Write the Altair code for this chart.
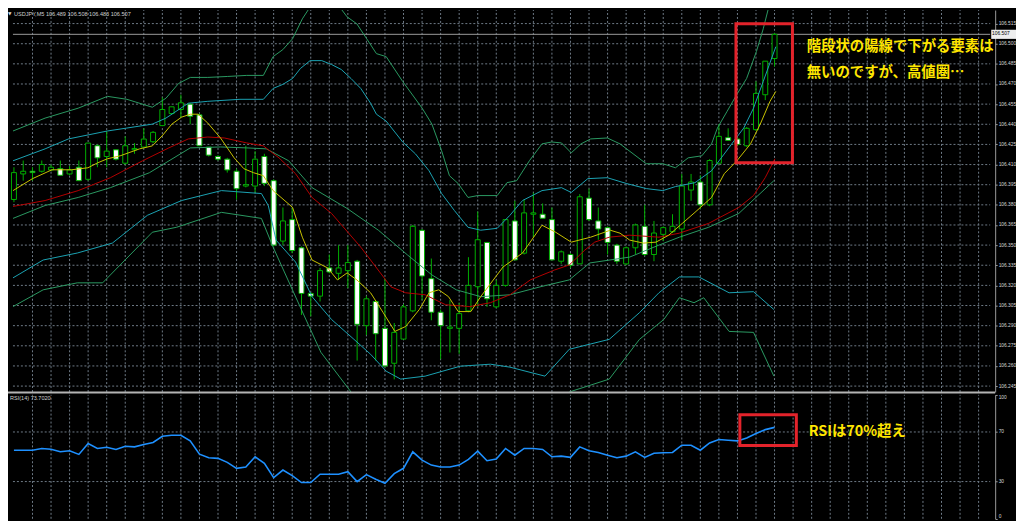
import altair as alt
import pandas as pd

# ---------------- data ----------------
opens = [106.384, 106.403, 106.405, 106.405, 106.406, 106.407, 106.403, 106.408, 106.399, 106.424,
         106.416, 106.421, 106.411, 106.421, 106.423, 106.427, 106.439, 106.448, 106.451, 106.455,
         106.447, 106.423, 106.416, 106.414, 106.405, 106.394, 106.394, 106.416, 106.398, 106.353,
         106.369, 106.348, 106.314, 106.312, 106.333, 106.329, 106.331, 106.338, 106.290, 106.308,
         106.288, 106.262, 106.280, 106.301, 106.361, 106.325, 106.300, 106.288, 106.288, 106.301,
         106.319, 106.352, 106.304, 106.320, 106.368, 106.344, 106.373, 106.373, 106.369, 106.338,
         106.343, 106.336, 106.385, 106.368, 106.363, 106.350, 106.336, 106.348, 106.364, 106.343,
         106.358, 106.360, 106.362, 106.391, 106.397, 106.380, 106.411, 106.430, 106.429, 106.424,
         106.436, 106.462, 106.489]
highs = [106.408, 106.413, 106.408, 106.413, 106.410, 106.413, 106.409, 106.413, 106.426, 106.425,
         106.435, 106.421, 106.431, 106.426, 106.437, 106.435, 106.460, 106.453, 106.462, 106.456,
         106.448, 106.423, 106.417, 106.415, 106.407, 106.424, 106.420, 106.418, 106.399, 106.378,
         106.378, 106.349, 106.315, 106.333, 106.343, 106.350, 106.350, 106.339, 106.312, 106.309,
         106.325, 106.292, 106.306, 106.365, 106.362, 106.340, 106.302, 106.309, 106.307, 106.341,
         106.375, 106.352, 106.324, 106.369, 106.383, 106.384, 106.389, 106.381, 106.378, 106.346,
         106.344, 106.388, 106.392, 106.378, 106.364, 106.351, 106.349, 106.366, 106.380, 106.368,
         106.364, 106.373, 106.403, 106.403, 106.402, 106.414, 106.440, 106.437, 106.430, 106.438,
         106.472, 106.487, 106.508]
lows = [106.382, 106.398, 106.398, 106.404, 106.405, 106.402, 106.402, 106.398, 106.398, 106.408,
        106.408, 106.413, 106.410, 106.418, 106.423, 106.426, 106.439, 106.447, 106.445, 106.440,
        106.424, 106.416, 106.413, 106.404, 106.384, 106.393, 106.389, 106.394, 106.349, 106.350,
        106.344, 106.298, 106.297, 106.308, 106.329, 106.324, 106.318, 106.264, 106.283, 106.264,
        106.259, 106.250, 106.280, 106.300, 106.309, 106.294, 106.265, 106.270, 106.269, 106.300,
        106.304, 106.304, 106.303, 106.319, 106.339, 106.343, 106.356, 106.370, 106.339, 106.336,
        106.333, 106.336, 106.368, 106.354, 106.343, 106.336, 106.335, 106.343, 106.342, 106.338,
        106.353, 106.359, 106.354, 106.383, 106.377, 106.379, 106.410, 106.428, 106.424, 106.423,
        106.435, 106.458, 106.483]
closes = [106.404, 106.405, 106.404, 106.410, 106.408, 106.402, 106.406, 106.398, 106.426, 106.415,
          106.420, 106.414, 106.424, 106.422, 106.429, 106.434, 106.451, 106.453, 106.456, 106.446,
          106.424, 106.417, 106.414, 106.406, 106.392, 106.395, 106.414, 106.396, 106.350, 106.368,
          106.346, 106.314, 106.312, 106.331, 106.330, 106.333, 106.337, 106.291, 106.310, 106.284,
          106.260, 106.285, 106.304, 106.364, 106.327, 106.300, 106.290, 106.289, 106.299, 106.320,
          106.354, 106.310, 106.320, 106.369, 106.339, 106.374, 106.374, 106.370, 106.339, 106.345,
          106.335, 106.386, 106.369, 106.362, 106.352, 106.338, 106.348, 106.365, 106.343, 106.359,
          106.363, 106.364, 106.394, 106.397, 106.380, 106.413, 106.431, 106.428, 106.425, 106.437,
          106.463, 106.487, 106.507]
rsi_vals = [55.3, 55.3, 55.3, 56.7, 56.1, 54.0, 54.8, 51.9, 60.7, 56.7,
            57.7, 55.9, 58.5, 58.0, 59.9, 61.5, 66.5, 67.3, 67.3, 62.8,
            52.1, 49.2, 48.7, 45.5, 40.7, 41.7, 50.0, 44.7, 33.2, 39.3,
            34.8, 29.2, 29.2, 35.9, 35.9, 35.9, 38.0, 30.0, 35.6, 31.9,
            28.7, 36.4, 40.7, 54.0, 47.3, 43.3, 41.7, 41.7, 43.3, 47.9,
            54.5, 46.8, 48.1, 56.7, 51.3, 56.7, 56.7, 55.9, 50.0, 50.5,
            49.5, 58.0, 54.8, 53.5, 51.3, 49.2, 50.5, 54.0, 49.5, 52.9,
            53.2, 53.5, 59.3, 59.3, 55.3, 61.2, 63.9, 63.3, 62.8, 65.2,
            68.7, 71.9, 73.7]

# indicator lines: points (bar index, price)
fast_i = [-0.1, 2.0, 4.1, 6.2, 7.98, 9.03, 10.08, 11.45, 13.55, 14.92, 15.97, 17.02, 18.07, 19.01, 19.85,
          20.9, 22.27, 23.74, 24.79, 25.84, 26.89, 27.94, 30.04, 31.09, 32.14, 33.82, 34.87, 35.92, 36.97,
          38.45, 39.81, 41.07, 42.23, 43.7, 44.75, 45.8, 46.85, 47.9, 49.26, 50.32, 52.73, 54.83, 56.93,
          58.4, 60.08, 62.18, 64.29, 65.34, 66.39, 67.86, 69.22, 70.59, 72.06, 73.42, 75.21, 76.58, 77.94,
          79.41, 80.46, 81.51, 82.14]
fast_p = [106.3906, 106.3995, 106.4061, 106.4061, 106.4076, 106.4113, 106.4143, 106.4165, 106.4217, 106.4239,
          106.4313, 106.4401, 106.4453, 106.4475, 106.4475, 106.4409, 106.4298, 106.4150, 106.4069, 106.4039,
          106.4017, 106.3906, 106.3781, 106.3559, 106.3389, 106.3330, 106.3241, 106.3293, 106.3241, 106.3145,
          106.2997, 106.2857, 106.2894, 106.3020, 106.3145, 106.3167, 106.3116, 106.3005, 106.3005, 106.3116,
          106.3337, 106.3441, 106.3648, 106.3596, 106.3522, 106.3559, 106.3611, 106.3589, 106.3537, 106.3515,
          106.3522, 106.3574, 106.3662, 106.3744, 106.3855, 106.4032, 106.4128, 106.4254, 106.4401, 106.4571,
          106.4645]
slow_i = [-0.1, 3.36, 6.93, 10.4, 13.87, 16.7, 18.8, 20.9, 22.69, 25.1, 26.89, 28.57, 30.36, 32.14, 34.24,
          37.39, 40.65, 42.23, 44.33, 46.53, 49.16, 51.37, 53.47, 55.67, 58.3, 59.87, 61.55, 62.61, 64.18,
          66.39, 69.54, 71.74, 74.9, 78.15, 79.73, 80.99, 82.04]
slow_p = [106.3788, 106.3832, 106.3906, 106.4002, 106.4128, 106.4224, 106.4291, 106.4305, 106.4298, 106.4261,
          106.4239, 106.4150, 106.4032, 106.3855, 106.3736, 106.3485, 106.3189, 106.3145, 106.3130, 106.3056,
          106.3042, 106.3071, 106.3130, 106.3241, 106.3315, 106.3352, 106.3463, 106.3522, 106.3559, 106.3574,
          106.3559, 106.3589, 106.3662, 106.3781, 106.3869, 106.4002, 106.4143]
mid_i = [-0.1, 3.36, 6.93, 10.4, 14.6, 19.01, 22.27, 25.1, 27.2, 29.62, 32.14, 35.92, 39.29, 42.44, 45.06,
         47.69, 50.32, 53.47, 56.72, 59.87, 62.08, 66.39, 69.54, 71.74, 74.9, 78.15, 81.93]
mid_p = [106.3699, 106.3795, 106.3855, 106.3928, 106.4039, 106.4224, 106.4231, 106.4224, 106.4217, 106.4128,
         106.3928, 106.3773, 106.3611, 106.3426, 106.3278, 106.3167, 106.3116, 106.3130, 106.3189, 106.3241,
         106.3367, 106.3411, 106.3500, 106.3559, 106.3633, 106.3736, 106.3980]
up2_i = [-0.1, 3.36, 5.88, 10.08, 12.18, 14.92, 16.39, 18.8, 20.9, 24.37, 26.89, 27.94, 28.99, 30.04, 30.88,
         31.93, 33.19, 34.24, 35.29, 36.34, 37.39, 38.45, 39.08, 40.13, 41.91, 43.28, 44.75, 46.11, 47.48,
         48.95, 50.32, 52.1, 53.47, 54.83, 56.93, 59.03, 60.08, 61.87, 63.97, 66.07, 68.17, 69.96, 71.32,
         73.42, 75.21, 76.26, 77.63, 78.68, 79.73, 80.78, 82.14]
up2_p = [106.4128, 106.4217, 106.4291, 106.4350, 106.4372, 106.4401, 106.4446, 106.4557, 106.4571, 106.4586,
         106.4586, 106.4667, 106.4697, 106.4741, 106.4815, 106.4874, 106.4874, 106.4845, 106.4808, 106.4741,
         106.4667, 106.4557, 106.4475, 106.4424, 106.4268, 106.4180, 106.4054, 106.3884, 106.3758, 106.3633,
         106.3611, 106.3625, 106.3722, 106.3832, 106.3906, 106.3928, 106.3892, 106.3995, 106.4002, 106.3958,
         106.3921, 106.3906, 106.3936, 106.3965, 106.4054, 106.4150, 106.4276, 106.4372, 106.4520, 106.4719,
         106.4978]
dn2_i = [-0.1, 3.15, 6.83, 10.61, 14.39, 18.07, 22.37, 26.68, 27.42, 28.26, 30.36, 32.14, 34.24, 36.66, 38.45,
         40.13, 41.7, 44.33, 48.11, 51.37, 53.47, 57.25, 59.87, 64.18, 67.44, 69.54, 71.74, 73.84, 77.1,
         79.73, 81.93]
dn2_p = [106.3256, 106.3389, 106.3441, 106.3515, 106.3722, 106.3832, 106.3906, 106.3884, 106.3795, 106.3537,
         106.3374, 106.3116, 106.2946, 106.2798, 106.2687, 106.2561, 106.2502, 106.2524, 106.2598, 106.2613,
         106.2591, 106.2524, 106.2724, 106.2798, 106.2997, 106.3145, 106.3263, 106.3263, 106.3145, 106.3153,
         106.3020]
up3_i = [-0.1, 3.36, 6.93, 10.08, 12.18, 14.92, 16.39, 17.75, 19.01, 20.9, 23.0, 25.1, 26.89, 27.94, 28.99,
         30.04, 31.09, 32.14, 33.51, 34.87, 35.92, 36.97, 38.03, 39.08, 40.13, 41.91, 44.01, 45.06, 46.11,
         46.95, 47.9, 48.95, 50.0, 52.1, 53.15, 54.2, 55.57, 56.93, 57.98, 59.03, 60.08, 61.13, 62.18, 63.97,
         65.34, 68.17, 69.96, 71.32, 72.69, 74.16, 75.21, 75.84, 76.89, 77.94, 78.99, 80.04, 80.78, 81.51,
         82.04]
up3_p = [106.4350, 106.4446, 106.4520, 106.4608, 106.4586, 106.4527, 106.4594, 106.4704, 106.4749, 106.4749,
         106.4756, 106.4764, 106.4764, 106.4904, 106.4956, 106.5037, 106.5185, 106.5296, 106.5355, 106.5296,
         106.5200, 106.5148, 106.5037, 106.4926, 106.4904, 106.4719, 106.4520, 106.4401, 106.4202, 106.4017,
         106.3958, 106.3855, 106.3869, 106.3869, 106.3965, 106.3980, 106.4128, 106.4254, 106.4268, 106.4261,
         106.4187, 106.4254, 106.4291, 106.4298, 106.4254, 106.4106, 106.4106, 106.4076, 106.4150, 106.4165,
         106.4254, 106.4372, 106.4497, 106.4623, 106.4741, 106.4941, 106.5111, 106.5310, 106.5384]
dn3a_i = [-0.1, 3.15, 6.83, 9.56, 14.92, 17.54, 22.37, 26.68, 27.94, 30.99, 33.09, 36.34]
dn3a_p = [106.3042, 106.3167, 106.3219, 106.3219, 106.3596, 106.3633, 106.3744, 106.3699, 106.3485, 106.3020,
          106.2702, 106.2406]
dn3b_i = [59.87, 64.18, 67.44, 70.06, 71.74, 73.32, 74.37, 77.1, 79.73, 81.93]
dn3b_p = [106.2406, 106.2502, 106.2798, 106.2946, 106.3108, 106.3071, 106.3108, 106.2857, 106.2850, 106.2524]

price_ticks = [106.515, 106.500, 106.485, 106.470, 106.455, 106.440, 106.425, 106.410, 106.395, 106.380,
               106.365, 106.350, 106.335, 106.320, 106.305, 106.290, 106.275, 106.260, 106.245]
rsi_ticks = [100, 70, 30, 0]
rsi_levels = [70, 30]
grid_bars = list(range(2, 105, 2))

box_main_i = [77.84, 83.93]
box_main_p = [106.4113, 106.5148]
box_rsi_i = [78.26, 84.35]
box_rsi_v = [59.1, 83.9]

header_text = "USDJPY,M5  106.489 106.508 106.483 106.507"
rsi_text = "RSI(14) 73.7020"
note_lines = ["階段状の陽線で下がる要素は", "無いのですが、高値圏…"]
note_rsi = "RSIは70%超え"

# ---------------- tables ----------------
n = len(opens)
assert len(highs) == n and len(lows) == n and len(closes) == n and len(rsi_vals) == n
candles = pd.DataFrame({"i": list(range(n)), "o": opens, "h": highs, "l": lows, "c": closes})
candles["dir"] = ["up" if c >= o else "down" for o, c in zip(opens, closes)]
rsi_df = pd.DataFrame({"i": list(range(n)), "rsi": rsi_vals})


def line_df(name, seg, xs, ps):
    assert len(xs) == len(ps), name + seg
    return pd.DataFrame({"line": name, "seg": name + seg, "i": xs, "p": ps})


bands = pd.concat([
    line_df("up3", "a", up3_i, up3_p),
    line_df("up2", "a", up2_i, up2_p),
    line_df("mid", "a", mid_i, mid_p),
    line_df("dn2", "a", dn2_i, dn2_p),
    line_df("dn3", "a", dn3a_i, dn3a_p),
    line_df("dn3", "b", dn3b_i, dn3b_p),
    line_df("slow", "a", slow_i, slow_p),
    line_df("fast", "a", fast_i, fast_p),
], ignore_index=True)

# ---------------- layout / scales ----------------
PMIN, PMAX = 106.2406, 106.5251
X_DOM = [-0.105, 105.25]
PLOT_W = 995
MAIN_H = 385
XS = alt.Scale(domain=X_DOM, range=[0, PLOT_W], nice=False, zero=False)
YP = alt.Scale(domain=[PMIN, PMAX], range=[MAIN_H, 0], nice=False, zero=False)
YR = alt.Scale(domain=[0, 100], range=[512.8, 387.8], nice=False, zero=False)

GRID = "#6f7b88"
DASH = [2, 2]
CANDLE = "#00B000"
RED = "#E3232B"
YELLOW = "#FFE600"
AXIS_C = "#9a9a9a"
LABEL_C = "#d6d6d6"
FONT = "Liberation Sans"
AX_FS = 4.9

vgrid = pd.DataFrame({"i": grid_bars})
vgrid["p0"], vgrid["p1"], vgrid["r0"], vgrid["r1"] = PMIN, PMAX, 0, 100
hgrid = pd.DataFrame({"p": price_ticks})
hgrid["x0"], hgrid["x1"] = X_DOM[0], X_DOM[1]
rgrid = pd.DataFrame({"r": rsi_levels})
rgrid["x0"], rgrid["x1"] = X_DOM[0], X_DOM[1]

last = closes[-1]
cur = pd.DataFrame({"p": [last], "x0": [X_DOM[0]], "x1": [X_DOM[1]],
                    "bx0": [X_DOM[1] + 0.11], "bx1": [X_DOM[1] + 3.0],
                    "pt": [last + 0.0034], "pb": [last - 0.0034],
                    "tx": [X_DOM[1] + 0.2], "lbl": [f"{last:.3f}"]})


def X(field="i"):
    return alt.X(f"{field}:Q", scale=XS, axis=None)


def YPr(field):
    return alt.Y(f"{field}:Q", scale=YP, axis=None)


def YRs(field):
    return alt.Y(f"{field}:Q", scale=YR, axis=None)


vg_main = alt.Chart(vgrid).mark_rule(color=GRID, strokeDash=DASH, strokeWidth=1).encode(
    x=X(), y=YPr("p0"), y2="p1:Q")
vg_rsi = alt.Chart(vgrid).mark_rule(color=GRID, strokeDash=DASH, strokeWidth=1).encode(
    x=X(), y=YRs("r0"), y2="r1:Q")
hg_main = alt.Chart(hgrid).mark_rule(color=GRID, strokeDash=DASH, strokeWidth=1).encode(
    x=X("x0"), x2="x1:Q", y=YPr("p"))
hg_rsi = alt.Chart(rgrid).mark_rule(color=GRID, strokeDash=DASH, strokeWidth=1).encode(
    x=X("x0"), x2="x1:Q", y=YRs("r"))
cur_line = alt.Chart(cur).mark_rule(color="#9c9c9c", strokeWidth=1).encode(
    x=X("x0"), x2="x1:Q", y=YPr("p"))

price_axis = alt.Axis(orient="right", offset=-21, values=price_ticks, format=".3f",
                      labelFontSize=AX_FS, labelFont=FONT, labelColor=LABEL_C, labelPadding=1,
                      tickColor=AXIS_C, tickSize=2, domainColor=AXIS_C, grid=False,
                      labelOverlap=False, title=None)
rsi_axis = alt.Axis(orient="right", offset=-21, values=rsi_ticks, format="d",
                    labelFontSize=AX_FS, labelFont=FONT, labelColor=LABEL_C, labelPadding=1,
                    tickColor=AXIS_C, tickSize=2, domainColor=AXIS_C, grid=False,
                    labelFlush=True, labelOverlap=False, title=None)

wicks = alt.Chart(candles).mark_rule(color=CANDLE, strokeWidth=1, clip=True).encode(
    x=X(), y=YPr("l"), y2="h:Q")
bodies = alt.Chart(candles).mark_bar(size=5, stroke=CANDLE, strokeWidth=1, clip=True).encode(
    x=X(),
    y=alt.Y("o:Q", scale=YP, axis=price_axis),
    y2="c:Q",
    fill=alt.Fill("dir:N", scale=alt.Scale(domain=["up", "down"], range=["#000000", "#ffffff"]),
                  legend=None),
)

line_names = ["up3", "up2", "mid", "dn2", "dn3", "slow", "fast"]
line_colors = ["#2A9A62", "#1BA3B3", "#2A9A62", "#1BA3B3", "#2A9A62", "#B40000", "#C8C200"]
band_lines = alt.Chart(bands).mark_line(strokeWidth=1, clip=True).encode(
    x=X(), y=YPr("p"),
    color=alt.Color("line:N", scale=alt.Scale(domain=line_names, range=line_colors), legend=None),
    detail="seg:N",
)

rsi_line = alt.Chart(rsi_df).mark_line(color="#1E90FF", strokeWidth=1.6).encode(
    x=X(), y=alt.Y("rsi:Q", scale=YR, axis=rsi_axis))

box_main = alt.Chart(pd.DataFrame({"x0": [box_main_i[0]], "x1": [box_main_i[1]],
                                   "y0": [box_main_p[0]], "y1": [box_main_p[1]]})).mark_rect(
    fillOpacity=0, stroke=RED, strokeWidth=3).encode(x=X("x0"), x2="x1:Q", y=YPr("y0"), y2="y1:Q")
box_rsi = alt.Chart(pd.DataFrame({"x0": [box_rsi_i[0]], "x1": [box_rsi_i[1]],
                                  "y0": [box_rsi_v[0]], "y1": [box_rsi_v[1]]})).mark_rect(
    fillOpacity=0, stroke=RED, strokeWidth=3).encode(x=X("x0"), x2="x1:Q", y=YRs("y0"), y2="y1:Q")

cur_box = alt.Chart(cur).mark_rect(color="#eeeeee").encode(
    x=X("bx0"), x2="bx1:Q", y=YPr("pb"), y2="pt:Q")
cur_txt = alt.Chart(cur).mark_text(align="left", baseline="middle", font=FONT, fontSize=AX_FS,
                                   color="#000000").encode(x=X("tx"), y=YPr("p"), text="lbl:N")

separator = alt.Chart(pd.DataFrame({"k": [0]})).mark_rule(color="#b4b4b4", strokeWidth=2).encode(
    x=alt.value(0), x2=alt.value(PLOT_W), y=alt.value(385.5))


def label(text, x, y, size, color, font=FONT, weight="normal"):
    return alt.Chart(pd.DataFrame({"t": [text]})).mark_text(
        align="left", baseline="middle", font=font, fontSize=size, fontWeight=weight, color=color
    ).encode(x=alt.value(x), y=alt.value(y), text="t:N")


header_tri = label("▼", 0, 4, 4.5, "#e0e0e0", font="DejaVu Sans")
header = label(header_text, 6, 4, 5.6, "#cfcfcf")
rsi_lab = label(rsi_text, 2, 391, 5.6, "#cfcfcf")
note1 = label(note_lines[0], 805, 37, 14.5, YELLOW, font="Noto Sans CJK JP", weight="bold")
note2 = label(note_lines[1], 805, 64, 14.5, YELLOW, font="Noto Sans CJK JP", weight="bold")
note3 = label(note_rsi, 807, 425, 14.5, YELLOW, font="Noto Sans CJK JP", weight="bold")

chart = alt.layer(
    vg_main, vg_rsi, hg_main, hg_rsi, cur_line,
    wicks, bodies, band_lines, rsi_line,
    box_main, box_rsi, cur_box, cur_txt, separator,
    header_tri, header, rsi_lab, note1, note2, note3,
).resolve_scale(
    y="independent", color="independent", fill="independent"
).properties(
    width=1016, height=513, autosize=alt.AutoSizeParams(type="none"), padding=0,
    background="#000000",
).configure_view(stroke="transparent")

chart.save("out.html", embed_options={"renderer": "svg", "actions": False})
